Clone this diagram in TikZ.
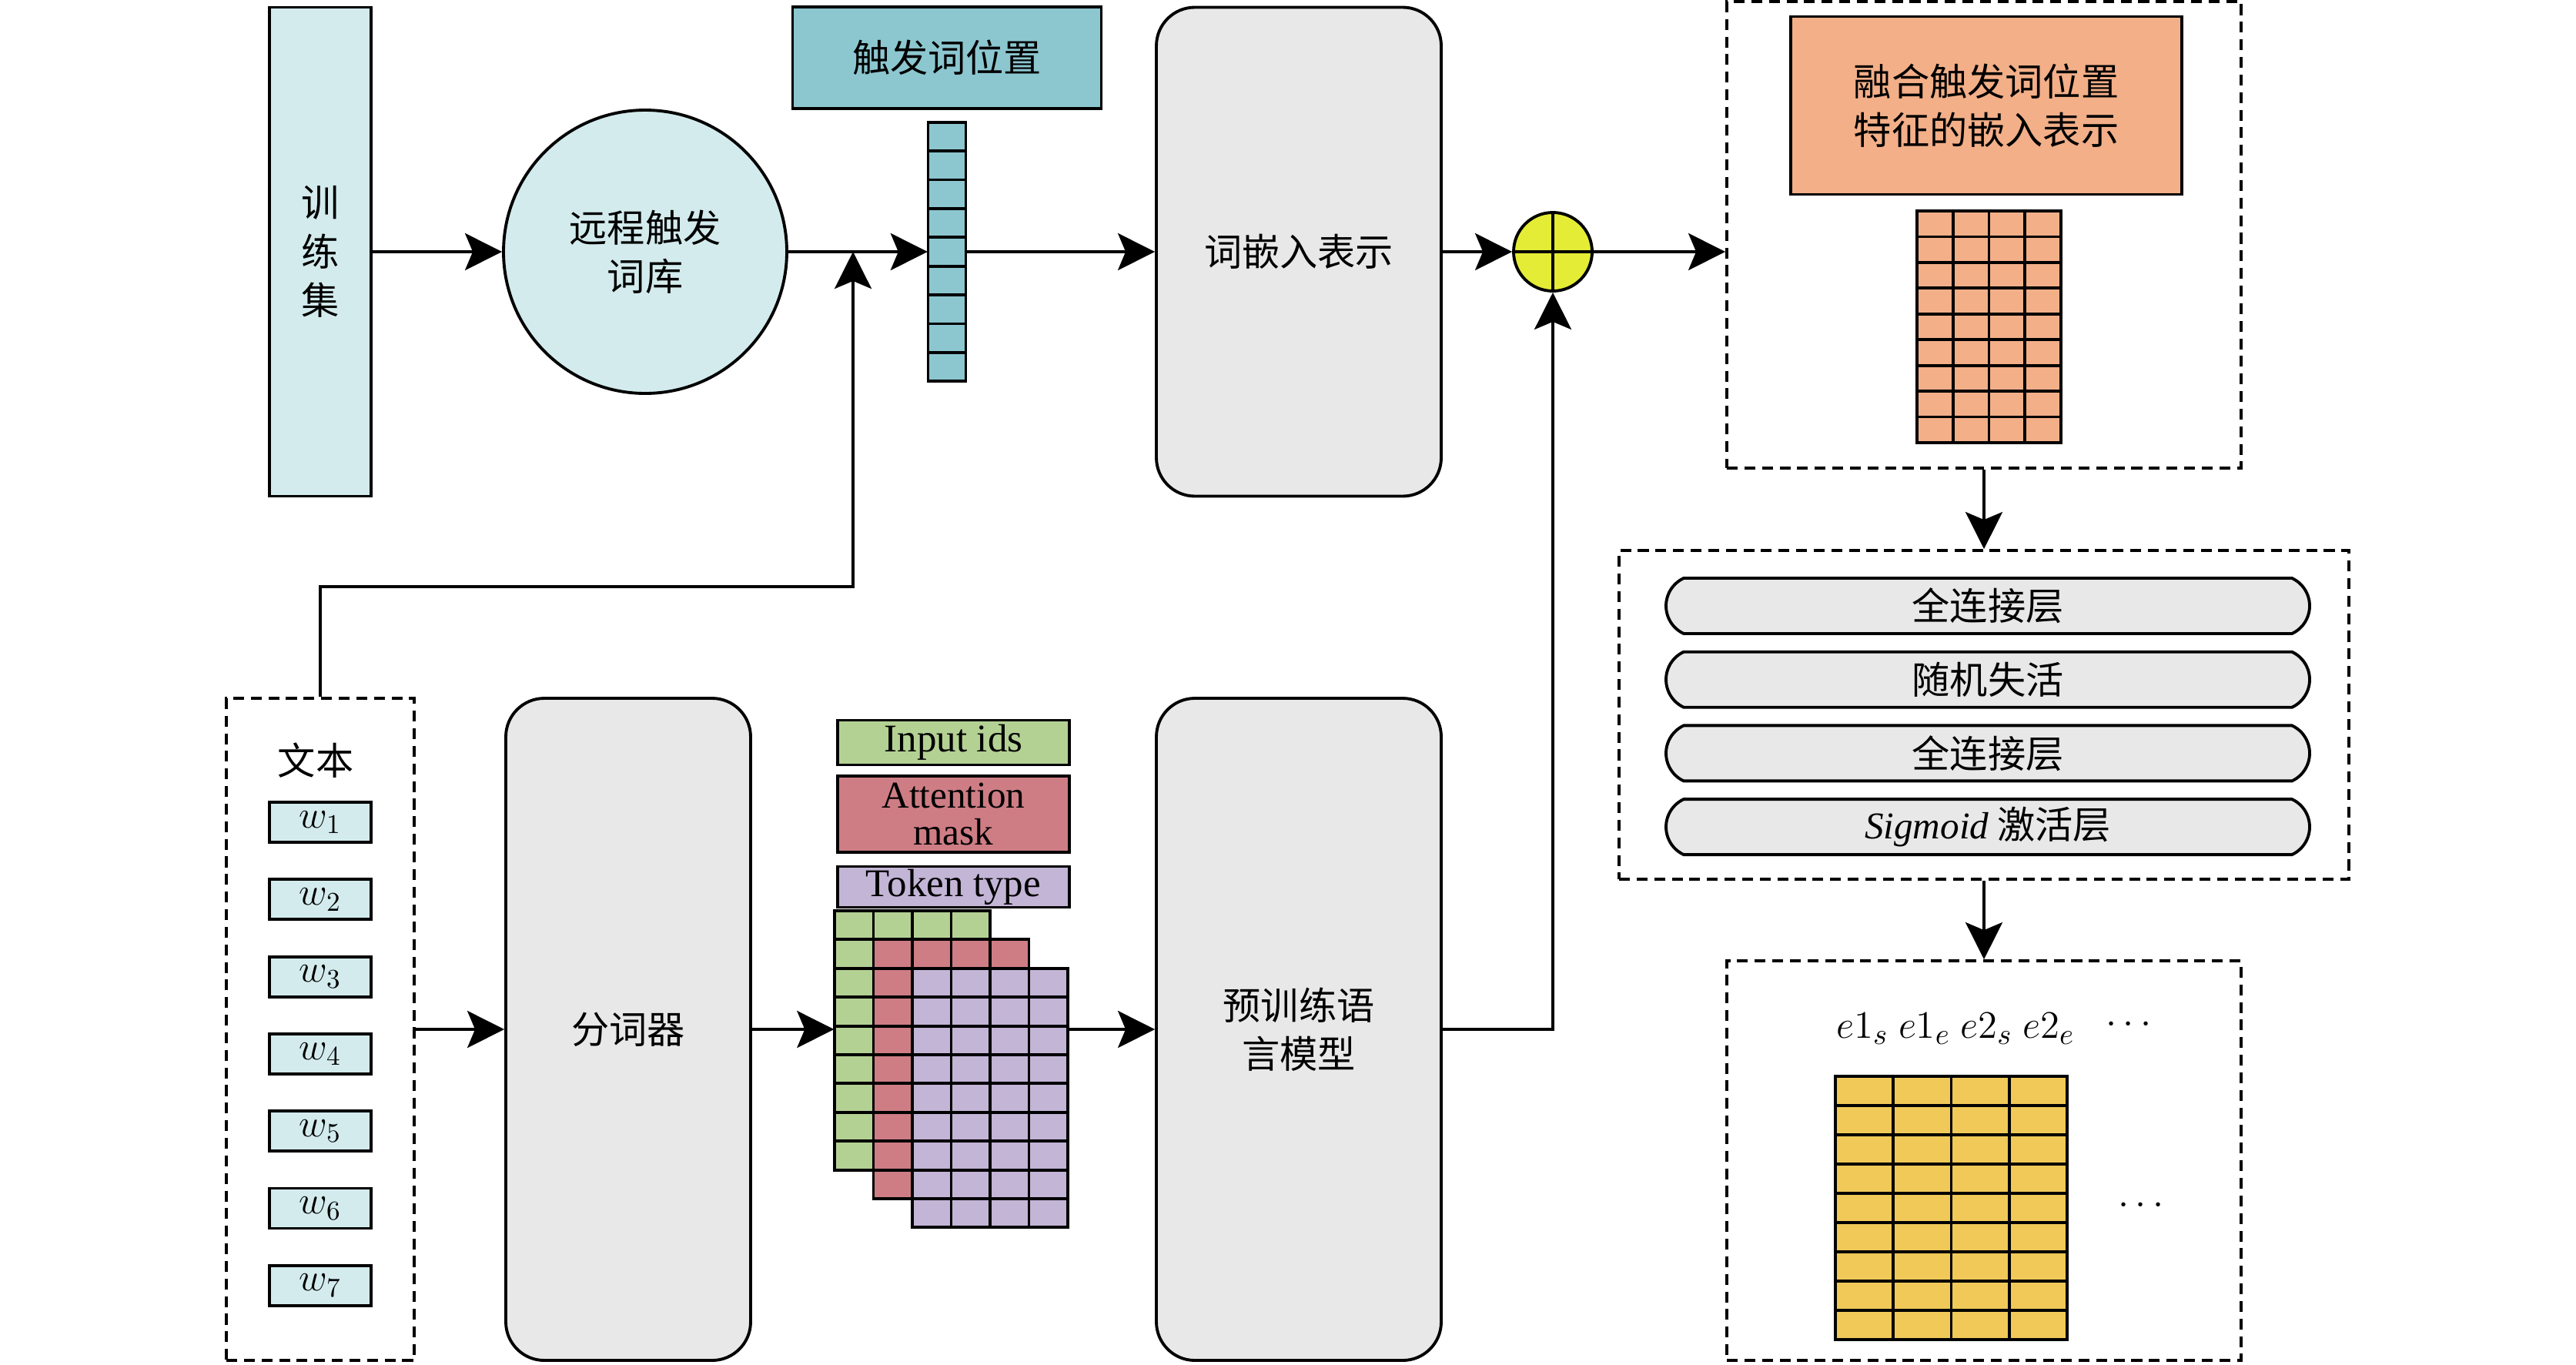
\documentclass[tikz,border=0pt]{standalone}
\usepackage{fontspec}
\setmainfont{Liberation Serif}
\newfontfamily\cjk{Noto Sans CJK SC}
\usepackage{amsmath}
\usepackage{tikz}
\usetikzlibrary{arrows.meta}
\usetikzlibrary{positioning}
\usetikzlibrary{shapes.misc}
\definecolor{paleblue}{HTML}{D3EBED}
\definecolor{tealblue}{HTML}{8CC7D0}
\definecolor{boxgray}{HTML}{E8E8E8}
\definecolor{salmon}{HTML}{F2AF88}
\definecolor{plusyellow}{HTML}{E4EC35}
\definecolor{leafgreen}{HTML}{B4D194}
\definecolor{rosered}{HTML}{CE7D85}
\definecolor{lilac}{HTML}{C3B5D6}
\definecolor{goldcell}{HTML}{F0C958}
\tikzset{
  zh/.style = {font = \cjk\fontsize{14}{18}\selectfont},
  cell/.style = {draw, line width = 1.1pt},
  plain/.style = {draw, line width = 1.1pt, inner sep = 0, zh, align = center},
  block/.style = {plain, fill = boxgray, rounded corners = 0.5cm, minimum width = 3.7cm},
  dashbox/.style = {draw, dashed, dash pattern = on 4pt off 2.5pt, line width = 1.1pt, inner sep = 0},
  pill/.style = {plain, rounded rectangle, rounded rectangle arc length = 130, fill = boxgray, minimum width = 8.36cm, minimum height = 0.72cm},
  latin/.style = {font = \rmfamily\fontsize{14.5}{12}\selectfont},
  arr/.style = {line width = 1.1pt, -{Stealth[length = 0.48cm, width = 0.48cm, inset = 0.1cm]}}
}

\begin{document}
\begin{tikzpicture}
      \useasboundingbox (0, 0) rectangle (33.46, -17.72);
      \node [plain, fill = paleblue, minimum width = 1.32cm, minimum height = 6.35cm] (train) at (4.16, -3.27) {训\\练\\集};
      \node [plain, circle, fill = paleblue, minimum size = 3.68cm] (dict) at (8.38, -3.27) {远程触发\\词库};
      \node [plain, fill = tealblue, minimum width = 4.01cm, minimum height = 1.32cm] (trigpos) at (12.30, -0.75) {触发词位置};
      \node [minimum width = 0.49cm, minimum height = 3.366cm, inner sep = 0] (vec) at (12.30, -3.27) {};
      \foreach \y in {0, ..., 8} {
        \draw [cell, fill = tealblue] (12.055, {-1.587 - 0.374 * \y}) rectangle ++(0.49, -0.374);
      }
      \node [block, minimum height = 6.35cm] (wemb) at (16.87, -3.27) {词嵌入表示};
      \node [draw, circle, line width = 1.1pt, fill = plusyellow, minimum size = 1.02cm, inner sep = 0] (plus) at (20.17, -3.27) {};
      \draw [line width = 1.1pt] (plus.north) -- (plus.south) (plus.west) -- (plus.east);

      \node [dashbox, minimum width = 6.68cm, minimum height = 6.06cm] (fuse) at (25.77, -3.05) {};
      \node [plain, fill = salmon, minimum width = 5.08cm, minimum height = 2.31cm] (fusetxt) at (25.80, -1.37) {融合触发词位置\\特征的嵌入表示};
      \foreach \x in {0, ..., 3} {
        \foreach \y in {0, ..., 8} {
          \draw [cell, fill = salmon] ({24.90 + 0.4675 * \x}, {-2.74 - 0.3344 * \y}) rectangle ++(0.4675, -0.3344);
        }
      }

      \node [dashbox, minimum width = 9.48cm, minimum height = 4.27cm] (head) at (25.77, -9.285) {};
      \foreach \t [count = \i from 0] in {全连接层, 随机失活, 全连接层, {{\rmfamily\itshape Sigmoid} 激活层}} {
        \node [pill] (layer\i) at (25.82, {-7.87 - 0.957 * \i}) {\t};
      }

      \node [dashbox, minimum width = 6.68cm, minimum height = 5.19cm] (result) at (25.77, -15.075) {};
      \node [font = \fontsize{15}{18}\selectfont] (tags) at (25.40, -13.36) {$e1_s\ e1_e\ e2_s\ e2_e$};
      \node [font = \fontsize{15}{18}\selectfont] (more) at (27.69, -13.31) {$\cdots$};
      \foreach \x in {0, ..., 3} {
        \foreach \y in {0, ..., 8} {
          \draw [cell, fill = goldcell] ({23.84 + 0.7525 * \x}, {-13.98 - 0.38 * \y}) rectangle ++(0.7525, -0.38);
        }
      }
      \node [font = \fontsize{15}{18}\selectfont] (rows) at (27.85, -15.66) {$\cdots$};

      \node [dashbox, minimum width = 2.44cm, minimum height = 8.60cm] (txt) at (4.16, -13.37) {};
      \node [zh] (txtlbl) at (4.10, -9.88) {文本};
      \foreach \i in {1, ..., 7} {
        \node [plain, fill = paleblue, minimum width = 1.32cm, minimum height = 0.52cm, font = \fontsize{14}{16}\selectfont] (w\i) at (4.16, {-9.677 - 1.003 * \i}) {$w_{\i}$};
      }
      \node [block, minimum width = 3.18cm, minimum height = 8.60cm] (tok) at (8.16, -13.37) {分词器};

      \node [plain, latin, fill = leafgreen, minimum width = 3.01cm, minimum height = 0.58cm] (ids) at (12.385, -9.645) {Input ids};
      \node [plain, latin, font = \rmfamily\fontsize{14}{13.5}\selectfont, fill = rosered, minimum width = 3.01cm, minimum height = 0.99cm] (mask) at (12.385, -10.575) {Attention\\mask};
      \node [plain, latin, fill = lilac, minimum width = 3.01cm, minimum height = 0.53cm] (ttype) at (12.385, -11.52) {Token type};
      \foreach \c/\d in {leafgreen/0, rosered/1, lilac/2} {
        \foreach \x in {0, ..., 3} {
          \foreach \y in {0, ..., 8} {
            \draw [cell, fill = \c] ({10.84 + 0.505 * (\d + \x)}, {-11.83 - 0.374 * (\d + \y)}) rectangle ++(0.505, -0.374);
          }
        }
      }
      \node [minimum width = 3.03cm, minimum height = 4.114cm, inner sep = 0] (stack) at (12.355, -13.887) {};
      \node [block, minimum height = 8.60cm] (plm) at (16.87, -13.37) {预训练语\\言模型};

      \coordinate (tap) at (11.08, -7.62);
      \draw [arr] (train) -- (dict);
      \draw [arr] (dict) -- (vec);
      \draw [arr] (vec) -- (wemb);
      \draw [arr] (wemb) -- (plus);
      \draw [arr] (plus) -- (plus -| fuse.west);
      \draw [arr] (txt.north) |- (tap) -- (tap |- vec.west);
      \draw [arr] (fuse.south) -- (head.north);
      \draw [arr] (head.south) -- (result.north);
      \draw [arr] (txt) -- (tok);
      \draw [arr] (tok.east) -- (tok.east -| stack.west);
      \draw [arr] (stack.east |- plm.west) -- (plm.west);
      \draw [arr] (plm.east) -| (plus.south);
    \end{tikzpicture}
\end{document}
